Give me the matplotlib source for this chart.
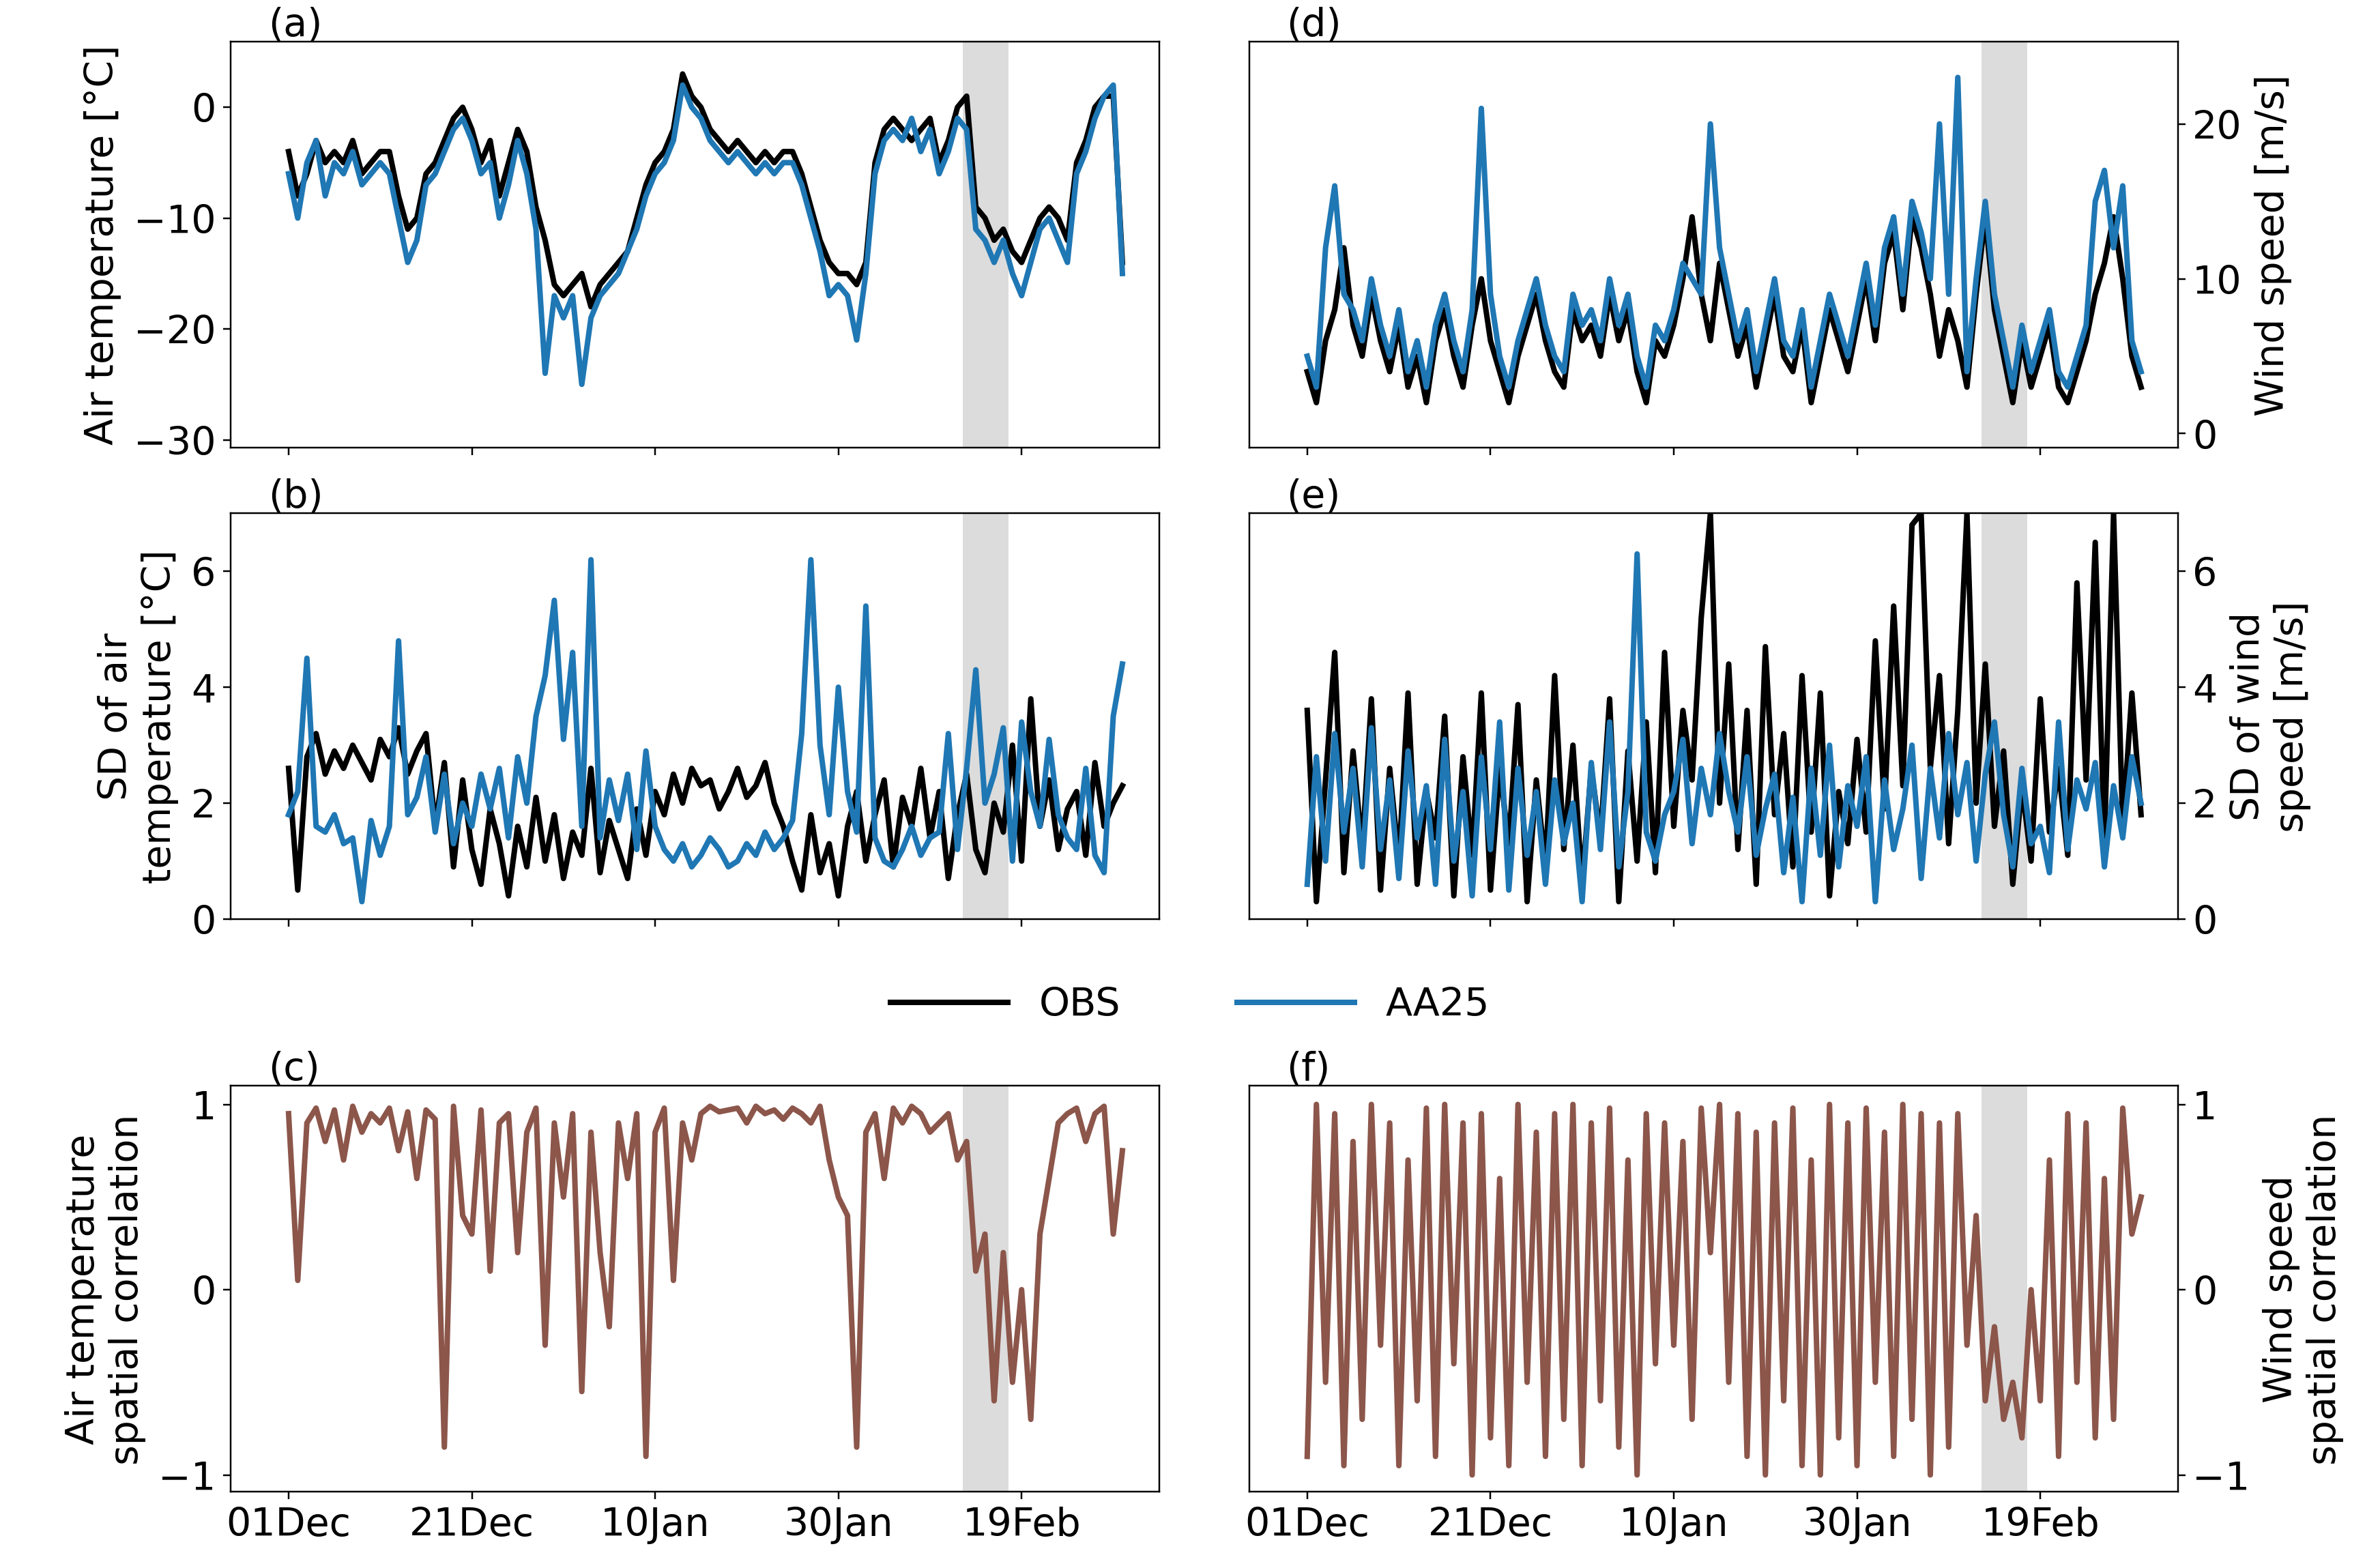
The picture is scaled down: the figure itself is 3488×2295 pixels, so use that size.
import matplotlib
matplotlib.use("Agg")
import matplotlib.pyplot as plt
import numpy as np

# daily values, day 0 = 01 Dec
days = np.arange(92)
tick_days = [0, 20, 40, 60, 80]
tick_labels = ["01Dec", "21Dec", "10Jan", "30Jan", "19Feb"]
shade = (73.6, 78.6)

temp_obs = [-4,-8,-6,-3,-5,-4,-5,-3,-6,-5,
            -4,-4,-8,-11,-10,-6,-5,-3,-1,0,
            -2,-5,-3,-8,-5,-2,-4,-9,-12,-16,
            -17,-16,-15,-18,-16,-15,-14,-13,-10,-7,
            -5,-4,-2,3,1,0,-2,-3,-4,-3,
            -4,-5,-4,-5,-4,-4,-6,-9,-12,-14,
            -15,-15,-16,-14,-5,-2,-1,-2,-3,-2,
            -1,-5,-3,0,1,-9,-10,-12,-11,-13,
            -14,-12,-10,-9,-10,-12,-5,-3,0,1,
            1,-14]
temp_aa = [-6,-10,-5,-3,-8,-5,-6,-4,-7,-6,
           -5,-6,-10,-14,-12,-7,-6,-4,-2,-1,
           -3,-6,-5,-10,-7,-3,-6,-11,-24,-17,
           -19,-17,-25,-19,-17,-16,-15,-13,-11,-8,
           -6,-5,-3,2,0,-1,-3,-4,-5,-4,
           -5,-6,-5,-6,-5,-5,-7,-10,-13,-17,
           -16,-17,-21,-15,-6,-3,-2,-3,-1,-4,
           -2,-6,-4,-1,-2,-11,-12,-14,-12,-15,
           -17,-14,-11,-10,-12,-14,-6,-4,-1,1,
           2,-15]

sdt_obs = [2.6,0.5,2.8,3.2,2.5,2.9,2.6,3.0,2.7,2.4,
           3.1,2.8,3.3,2.5,2.9,3.2,1.6,2.7,0.9,2.4,
           1.2,0.6,1.9,1.3,0.4,1.6,0.9,2.1,1.0,1.8,
           0.7,1.5,1.1,2.6,0.8,1.7,1.2,0.7,1.9,1.1,
           2.2,1.8,2.5,2.0,2.6,2.3,2.4,1.9,2.2,2.6,
           2.1,2.3,2.7,2.0,1.6,1.0,0.5,1.8,0.8,1.3,
           0.4,1.6,2.2,1.0,1.8,2.4,0.9,2.1,1.6,2.6,
           1.4,2.2,0.7,1.8,2.5,1.2,0.8,2.0,1.5,3.0,
           1.0,3.8,1.6,2.4,1.2,1.9,2.2,1.1,2.7,1.6,
           2.0,2.3]
sdt_aa = [1.8,2.2,4.5,1.6,1.5,1.8,1.3,1.4,0.3,1.7,
          1.1,1.6,4.8,1.8,2.1,2.8,1.5,2.5,1.3,2.0,
          1.6,2.5,1.9,2.6,1.4,2.8,2.0,3.5,4.2,5.5,
          3.1,4.6,1.6,6.2,1.4,2.4,1.7,2.5,1.2,2.9,
          1.6,1.2,1.0,1.3,0.9,1.1,1.4,1.2,0.9,1.0,
          1.3,1.1,1.5,1.2,1.4,1.7,3.2,6.2,3.0,1.8,
          4.0,2.2,1.5,5.4,1.4,1.0,0.9,1.2,1.6,1.1,
          1.4,1.5,3.2,1.2,2.6,4.3,2.0,2.5,3.3,1.0,
          3.4,2.2,1.6,3.1,1.8,1.4,1.2,2.6,1.1,0.8,
          3.5,4.4]

corr_t = [0.95,0.05,0.9,0.98,0.8,0.97,0.7,0.99,0.85,0.95,
          0.9,0.98,0.75,0.96,0.6,0.97,0.92,-0.85,0.99,0.4,
          0.3,0.97,0.1,0.9,0.95,0.2,0.85,0.98,-0.3,0.9,
          0.5,0.95,-0.55,0.85,0.2,-0.2,0.9,0.6,0.95,-0.9,
          0.85,0.98,0.05,0.9,0.7,0.95,0.99,0.96,0.97,0.98,
          0.9,0.99,0.95,0.97,0.92,0.98,0.95,0.9,0.99,0.7,
          0.5,0.4,-0.85,0.85,0.95,0.6,0.98,0.9,0.99,0.95,
          0.85,0.9,0.95,0.7,0.8,0.1,0.3,-0.6,0.2,-0.5,
          0.0,-0.7,0.3,0.6,0.9,0.95,0.98,0.8,0.95,0.99,
          0.3,0.75]

wind_obs = [4,2,6,8,12,7,5,9,6,4,
            7,3,5,2,6,8,5,3,7,10,
            6,4,2,5,7,9,6,4,3,8,
            6,7,5,9,6,8,4,2,6,5,
            7,10,14,9,6,11,8,5,7,3,
            6,9,5,4,7,2,5,8,6,4,
            7,10,6,11,13,8,14,12,9,5,
            8,6,3,9,14,8,5,2,6,3,
            5,7,3,2,4,6,9,11,14,10,
            5,3]
wind_aa = [5,3,12,16,9,8,6,10,7,5,
           8,4,6,3,7,9,6,4,8,21,
           9,5,3,6,8,10,7,5,4,9,
           7,8,6,10,7,9,5,3,7,6,
           8,11,10,9,20,12,9,6,8,4,
           7,10,6,5,8,3,6,9,7,5,
           8,11,7,12,14,9,15,13,10,20,
           9,23,4,10,15,9,6,3,7,4,
           6,8,4,3,5,7,15,17,12,16,
           6,4]

sdw_obs = [3.6,0.3,2.4,4.6,0.8,2.9,1.2,3.8,0.5,2.6,
           1.0,3.9,0.6,2.2,1.4,3.5,0.4,2.8,1.1,3.9,
           0.5,2.6,1.3,3.7,0.3,2.4,0.9,4.2,1.2,3.0,
           0.6,2.6,1.4,3.8,0.3,2.9,1.0,3.4,0.8,4.6,
           1.6,3.6,2.4,5.2,7.0,2.0,4.4,1.2,3.6,0.6,
           4.7,1.8,3.2,0.9,4.2,1.5,3.9,0.4,2.2,1.3,
           3.1,1.5,4.8,1.9,5.4,2.3,6.8,7.0,2.6,4.2,
           1.3,3.6,7.0,2.0,4.4,1.6,2.9,0.6,2.3,1.0,
           3.8,1.5,2.6,1.1,5.8,2.4,6.5,1.3,7.0,1.6,
           3.9,1.8]
sdw_aa = [0.6,2.8,1.0,3.2,1.5,2.6,0.9,3.3,1.2,2.4,
          0.7,2.9,1.4,2.3,0.6,3.1,1.0,2.2,0.4,2.8,
          1.2,3.4,0.5,2.6,1.1,2.2,0.6,2.4,1.3,2.0,
          0.3,2.7,1.2,3.4,0.9,2.2,6.3,1.5,1.0,1.8,
          2.2,3.1,1.3,2.6,1.8,3.2,2.2,1.5,2.8,1.1,
          1.9,2.5,0.8,2.1,0.3,2.6,1.1,3.0,0.9,2.3,
          1.6,2.8,0.3,2.4,1.2,1.9,3.0,0.7,2.6,1.4,
          3.2,1.8,2.7,1.0,2.5,3.4,1.8,0.9,2.6,1.3,
          1.6,0.8,3.4,1.2,2.4,1.9,2.7,0.9,2.3,1.4,
          2.8,2.0]

corr_w = [-0.9,1.0,-0.5,0.95,-0.95,0.8,-0.7,1.0,-0.3,0.9,
          -0.95,0.7,-0.6,0.98,-0.9,1.0,-0.4,0.9,-1.0,0.95,
          -0.8,0.6,-0.95,1.0,-0.5,0.85,-0.9,0.95,-0.7,1.0,
          -0.95,0.9,-0.6,0.98,-0.85,0.7,-1.0,0.95,-0.4,0.9,
          -0.3,0.8,-0.7,0.98,0.2,1.0,-0.5,0.95,-0.9,0.85,
          -1.0,0.9,-0.6,0.98,-0.95,0.7,-1.0,1.0,-0.8,0.9,
          -0.95,0.98,-0.5,0.85,-0.9,1.0,-0.7,0.95,-1.0,0.9,
          -0.85,0.95,-0.3,0.4,-0.6,-0.2,-0.7,-0.5,-0.8,0.0,
          -0.6,0.7,-0.9,0.95,-0.5,0.9,-0.8,0.6,-0.7,0.98,
          0.3,0.5]

OBS_C = "black"
AA_C = "#1f77b4"
CORR_C = "#8c564b"
plt.rcParams["font.size"] = 18.5

fig = plt.figure(figsize=(15.68, 10.32), dpi=222.45)
lefts = [0.097, 0.525]
w = 0.390
bottoms = [0.714, 0.413, 0.0475]
h = 0.259

panels = [
    # (col, row, label, series, ylim, yticks, ylabel)
    (0, 0, "(a)", [(temp_obs, OBS_C), (temp_aa, AA_C)], (-30.7, 5.9), [-30, -20, -10, 0], "Air temperature [°C]"),
    (0, 1, "(b)", [(sdt_obs, OBS_C), (sdt_aa, AA_C)], (0, 7), [0, 2, 4, 6], "SD of air\ntemperature [°C]"),
    (0, 2, "(c)", [(corr_t, CORR_C)], (-1.09, 1.1), [-1, 0, 1], "Air temperature\nspatial correlation"),
    (1, 0, "(d)", [(wind_obs, OBS_C), (wind_aa, AA_C)], (-0.9, 25.3), [0, 10, 20], "Wind speed [m/s]"),
    (1, 1, "(e)", [(sdw_obs, OBS_C), (sdw_aa, AA_C)], (0, 7), [0, 2, 4, 6], "SD of wind\nspeed [m/s]"),
    (1, 2, "(f)", [(corr_w, CORR_C)], (-1.09, 1.1), [-1, 0, 1], "Wind speed\nspatial correlation"),
]

handles = None
for col, row, lab, series, ylim, yticks, ylabel in panels:
    ax = fig.add_axes([lefts[col], bottoms[row], w, h])
    ax.axvspan(shade[0], shade[1], color="#dcdcdc", lw=0)
    lines = []
    for vals, c in series:
        ln, = ax.plot(days, vals, color=c, lw=2.6)
        lines.append(ln)
    if len(lines) == 2:
        handles = lines
    ax.set_xlim(-6.3, 95)
    ax.set_ylim(*ylim)
    ax.set_yticks(yticks)
    ax.set_xticks(tick_days)
    if row == 2:
        ax.set_xticklabels(tick_labels)
    else:
        ax.set_xticklabels([])
    if col == 1:
        ax.yaxis.tick_right()
        ax.yaxis.set_label_position("right")
    ax.set_ylabel(ylabel, labelpad=6)
    ax.text(0.04, 0.995, lab, transform=ax.transAxes, va="bottom", ha="left")

fig.legend(handles, ["OBS", "AA25"], loc="center", bbox_to_anchor=(0.5, 0.358),
           ncol=2, frameon=False, handlelength=3, columnspacing=3)

fig.savefig("out.png")
